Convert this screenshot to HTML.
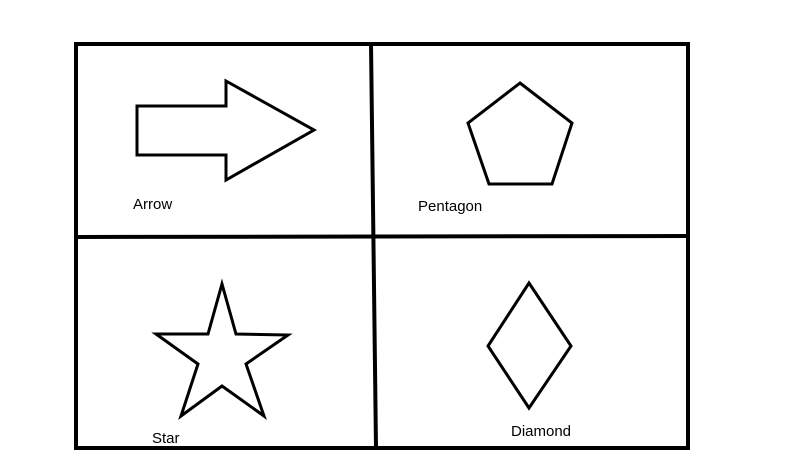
<!DOCTYPE html>
<html><head><meta charset="utf-8"><style>
html,body{margin:0;padding:0;background:#fff;width:812px;height:475px;overflow:hidden}
svg{display:block}
text{font-family:"Liberation Sans",sans-serif;font-size:15px;fill:#000}
</style></head><body>
<svg width="812" height="475" viewBox="0 0 812 475">
<g stroke="#000" stroke-width="4" fill="none" stroke-linejoin="miter">
<rect x="76" y="44" width="612" height="404"/>
<line x1="371" y1="44" x2="376" y2="448"/>
<line x1="76" y1="237" x2="690" y2="236"/>
</g>
<g stroke="#000" stroke-width="3" fill="none">
<polygon points="137,106 226,106 226,81 314,130 226,180 226,155 137,155"/>
<polygon points="520,83 572,123 552,184 489,184 468,123"/>
<polygon points="222,284 236,334 288,335 246,364 264,416 222,386 181,416 198,364 156,334 208,334"/>
<polygon points="529,283 571,346 529,408 488,346"/>
</g>
<text x="133" y="209">Arrow</text>
<text x="418" y="211">Pentagon</text>
<text x="152" y="443">Star</text>
<text x="511" y="436">Diamond</text>
</svg>
</body></html>
